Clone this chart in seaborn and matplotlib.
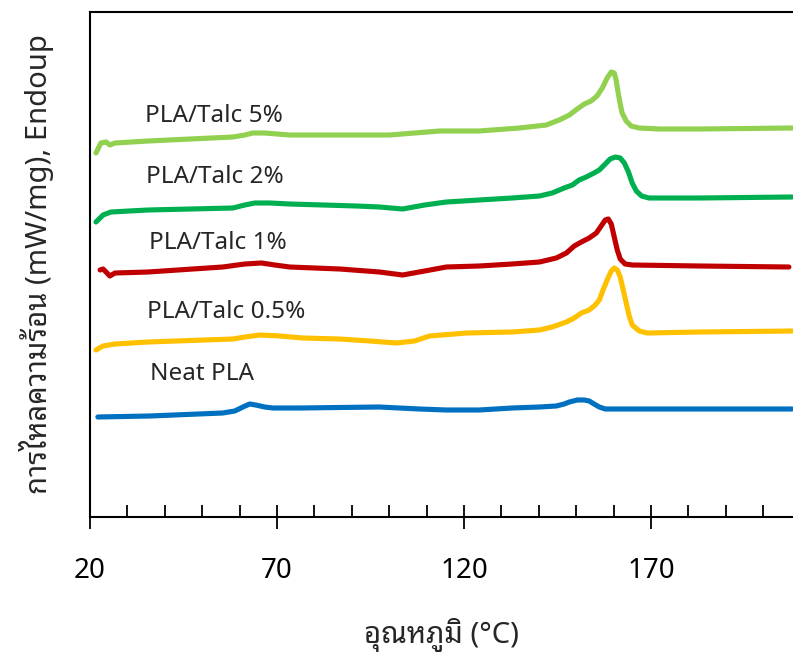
import pandas as pd
import seaborn as sns
import matplotlib.pyplot as plt
from matplotlib.ticker import MultipleLocator

# DSC curves, temperature (C) vs heat flow (offset, endo up)
temp_neat = [22.1, 36.0, 55.5, 58.7, 60.9, 62.7, 64.3, 66.7, 68.9, 76.1,
             97.4, 108.1, 115.3, 124.1, 132.9, 140.2, 144.7, 146.8, 148.2, 150.3,
             152.2, 153.5, 154.8, 156.2, 157.8, 161.5, 182.9, 207.7]
flow_neat = [1.00, 1.01, 1.04, 1.06, 1.10, 1.13, 1.12, 1.10, 1.09, 1.09,
             1.10, 1.08, 1.07, 1.07, 1.09, 1.10, 1.11, 1.13, 1.15, 1.17,
             1.17, 1.16, 1.13, 1.10, 1.08, 1.08, 1.08, 1.08]

temp_05 = [21.6, 23.5, 26.7, 35.5, 58.2, 61.4, 65.4, 70.7, 76.9, 86.8,
           94.8, 102.0, 106.8, 110.8, 120.7, 132.9, 140.2, 143.6, 147.4, 149.5,
           151.4, 153.5, 155.1, 156.2, 157.2, 158.3, 159.4, 160.2, 161.0, 161.8,
           162.6, 163.4, 164.2, 165.0, 166.9, 169.0, 182.9, 207.7]
flow_05 = [1.67, 1.71, 1.73, 1.75, 1.78, 1.80, 1.82, 1.81, 1.79, 1.78,
           1.76, 1.74, 1.76, 1.81, 1.84, 1.85, 1.87, 1.90, 1.95, 1.99,
           2.04, 2.07, 2.12, 2.17, 2.27, 2.37, 2.46, 2.49, 2.47, 2.40,
           2.27, 2.14, 2.01, 1.92, 1.86, 1.84, 1.85, 1.86]

temp_1 = [22.7, 23.5, 24.3, 25.3, 26.7, 35.5, 55.5, 61.4, 65.9, 69.4,
          73.4, 86.8, 97.4, 103.6, 109.5, 115.3, 124.1, 132.9, 140.2, 144.7,
          147.4, 149.5, 151.4, 153.5, 155.4, 156.7, 157.8, 158.6, 159.4, 160.2,
          161.0, 161.8, 163.1, 165.0, 182.9, 206.9]
flow_1 = [2.47, 2.48, 2.45, 2.41, 2.44, 2.45, 2.50, 2.53, 2.54, 2.52,
          2.50, 2.48, 2.45, 2.42, 2.46, 2.50, 2.51, 2.53, 2.55, 2.59,
          2.64, 2.71, 2.75, 2.79, 2.84, 2.91, 2.97, 2.98, 2.93, 2.80,
          2.67, 2.58, 2.53, 2.52, 2.51, 2.50]

temp_2 = [21.6, 23.5, 25.6, 35.5, 58.2, 61.4, 64.1, 68.1, 73.4, 91.3,
          97.4, 103.6, 109.5, 115.3, 124.1, 132.9, 140.2, 143.6, 146.8, 149.0,
          150.8, 152.7, 154.8, 156.2, 157.8, 159.1, 160.5, 161.8, 162.9, 164.0,
          165.0, 166.1, 167.5, 169.5, 182.9, 207.7]
flow_2 = [2.95, 3.02, 3.05, 3.07, 3.09, 3.12, 3.14, 3.14, 3.13, 3.11,
          3.10, 3.08, 3.12, 3.15, 3.17, 3.19, 3.21, 3.24, 3.29, 3.32,
          3.37, 3.40, 3.44, 3.47, 3.53, 3.58, 3.60, 3.59, 3.54, 3.45,
          3.34, 3.26, 3.21, 3.19, 3.19, 3.20]

temp_5 = [21.6, 22.9, 24.3, 25.3, 26.7, 35.5, 58.2, 61.4, 63.5, 66.7,
          73.4, 86.8, 100.1, 113.5, 124.1, 134.8, 142.0, 145.5, 148.2, 150.3,
          152.2, 154.0, 155.6, 157.0, 158.3, 159.4, 160.2, 160.7, 161.2, 161.8,
          162.3, 163.4, 164.7, 166.9, 172.2, 182.9, 207.7]
flow_5 = [3.64, 3.74, 3.75, 3.72, 3.74, 3.76, 3.80, 3.82, 3.84, 3.84,
          3.82, 3.82, 3.82, 3.86, 3.86, 3.89, 3.92, 3.97, 4.02, 4.08,
          4.13, 4.16, 4.21, 4.29, 4.39, 4.45, 4.44, 4.37, 4.25, 4.13,
          4.04, 3.96, 3.91, 3.89, 3.88, 3.88, 3.89]

samples = ['Neat PLA', 'PLA/Talc 0.5%', 'PLA/Talc 1%', 'PLA/Talc 2%', 'PLA/Talc 5%']
colors = ['#0070C0', '#FFC000', '#C00000', '#00B050', '#92D050']
xticks = [20, 70, 120, 170]

frames = []
for name, t, f in zip(samples,
                      [temp_neat, temp_05, temp_1, temp_2, temp_5],
                      [flow_neat, flow_05, flow_1, flow_2, flow_5]):
    frames.append(pd.DataFrame({'temp': t, 'flow': f, 'sample': name}))
df = pd.concat(frames, ignore_index=True)

sns.set_style('white')
plt.rcParams['font.family'] = ['Noto Sans Thai Looped', 'Noto Sans', 'DejaVu Sans']

fig = plt.figure(figsize=(7.93, 6.52), dpi=100)
ax = fig.add_axes([90 / 793, 1 - 517 / 652, 1 - 90 / 793, 505 / 652])

sns.lineplot(data=df, x='temp', y='flow', hue='sample', palette=colors,
             hue_order=samples, sort=False, estimator=None, legend=False,
             linewidth=3.7, ax=ax)
for line in ax.get_lines():
    line.set_solid_capstyle('round')
    line.set_solid_joinstyle('round')

# curve labels (left edge, vertical centre)
label_pos = [(36.0, 1.43), (35.2, 2.05), (35.8, 2.74), (35.0, 3.40), (34.7, 4.01)]
for name, (x, y) in zip(samples, label_pos):
    ax.text(x, y, name, fontsize=17.5, color='#262626', va='center', ha='left')

ax.set_xlim(20, 208)
ax.set_ylim(0, 5.05)
ax.set_xticks(xticks)
ax.xaxis.set_minor_locator(MultipleLocator(10))
ax.set_yticks([])
ax.tick_params(axis='x', which='major', direction='inout', length=17, width=1.3,
               color='black', labelsize=20, labelcolor='black', pad=20, bottom=True)
ax.tick_params(axis='x', which='minor', direction='in', length=8.5, width=1.3,
               color='black', bottom=True)
for side in ['left', 'top', 'bottom']:
    ax.spines[side].set_color('black')
    ax.spines[side].set_linewidth(1.5)
ax.spines['right'].set_visible(False)

ax.set_xlabel('อุณหภูมิ (°C)', fontsize=21, labelpad=24)
ax.set_ylabel('การไหลความร้อน (mW/mg), Endoup', fontsize=21, labelpad=26)

fig.savefig('out.png', dpi=100)
